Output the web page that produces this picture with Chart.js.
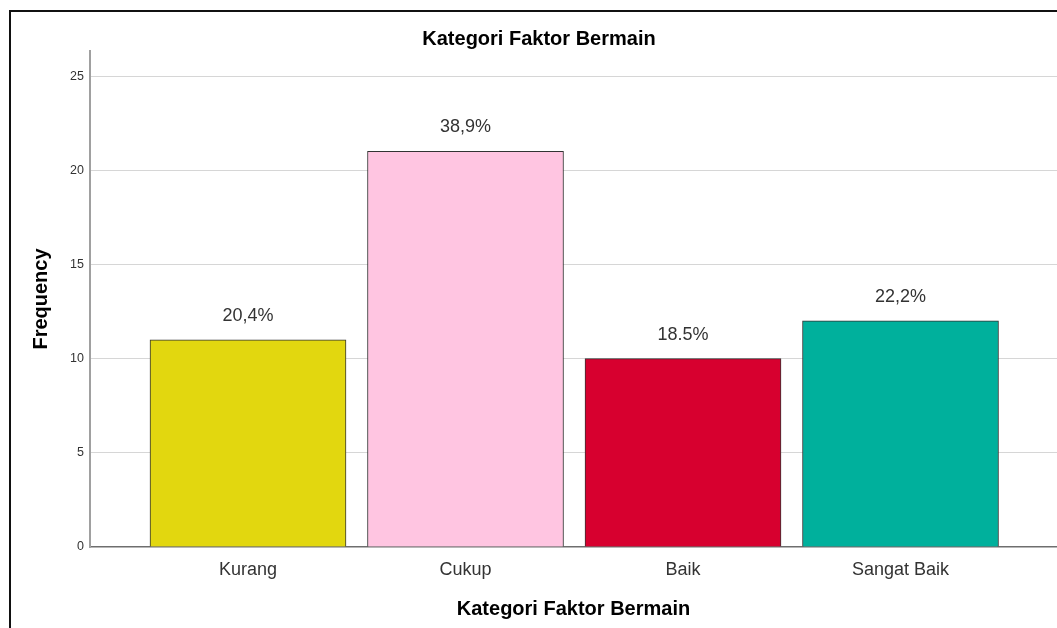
<!DOCTYPE html>
<html><head><meta charset="utf-8">
<script src="https://cdn.jsdelivr.net/npm/chart.js@4.4.1/dist/chart.umd.min.js"></script>
<style>
html,body{margin:0;padding:0;background:#fff;overflow:hidden;}
#wrap{position:relative;width:1057px;height:628px;}
#frame{position:absolute;left:9px;top:10px;width:1100px;height:700px;border-left:2px solid #111;border-top:2px solid #111;box-sizing:border-box;}
canvas{position:absolute;left:0;top:0;}
</style></head>
<body><div id="wrap"><div id="frame"></div><canvas id="c" width="1057" height="628"></canvas></div>
<script>
const chartTitle = "Kategori Faktor Bermain";
const xTitle = "Kategori Faktor Bermain";
const yTitle = "Frequency";
const categories = ["Kurang", "Cukup", "Baik", "Sangat Baik"];
const frequencies = [11, 21, 10, 12];
const percentLabels = ["20,4%", "38,9%", "18.5%", "22,2%"];
const barColors = ["#E2D70F", "#FFC5E1", "#D7002F", "#00B09C"];
const yTicks = [0, 5, 10, 15, 20, 25];

const FONT = "'Liberation Sans', Arial, sans-serif";

const extraText = {
  id: 'extraText',
  afterDatasetsDraw(chart) {
    const ctx = chart.ctx;
    ctx.save();
    ctx.font = "bold 20px " + FONT;
    ctx.fillStyle = "#000";
    ctx.textAlign = "center";
    ctx.textBaseline = "middle";
    ctx.fillText(chartTitle, 539, 39);
    const meta = chart.getDatasetMeta(0);
    ctx.font = "18px " + FONT;
    ctx.fillStyle = "#333";
    meta.data.forEach((bar, i) => {
      const p = bar.getProps(['x', 'y'], true);
      ctx.fillText(percentLabels[i], p.x, p.y - 24);
    });
    ctx.restore();
  }
};

new Chart(document.getElementById('c'), {
  type: 'bar',
  data: {
    datasets: [{
      data: categories.map((c, i) => ({x: i, y: frequencies[i]})),
      backgroundColor: barColors,
      borderColor: "#333",
      borderWidth: 1,
      barThickness: 196
    }]
  },
  options: {
    responsive: false,
    animation: false,
    devicePixelRatio: 1,
    layout: {padding: {top: 51, left: 0, right: 0, bottom: 0}},
    plugins: {legend: {display: false}, tooltip: {enabled: false}, title: {display: false}},
    scales: {
      x: {
        type: 'linear',
        offset: false,
        bounds: 'data',
        min: -0.7264,
        max: 3.7195,
        afterFit(s) { s.height = 81; },
        afterBuildTicks(s) { s.ticks = categories.map((c, i) => ({value: i})); },
        grid: {display: false, drawTicks: false, offset: false},
        border: {display: true, color: "#6e6e6e", width: 1.5},
        ticks: {
          autoSkip: false, maxRotation: 0, padding: 12,
          font: {family: FONT, size: 18}, color: "#333",
          callback: (v) => categories[v] ?? ''
        },
        title: {display: true, text: xTitle, font: {family: FONT, size: 20, weight: 'bold'}, color: "#000", padding: {top: 0, bottom: 7}}
      },
      y: {
        type: 'linear',
        min: 0,
        max: 26.33,
        afterFit(s) { s.width = 90; },
        afterBuildTicks(s) { s.ticks = yTicks.map(v => ({value: v})); },
        grid: {drawTicks: false, color: (c) => c.tick && c.tick.value === 0 ? 'rgba(0,0,0,0)' : '#d6d6d6', lineWidth: 1},
        border: {display: true, color: "#a0a0a0", width: 2},
        ticks: {padding: 6, font: {family: FONT, size: 12.5}, color: "#333"},
        title: {display: true, text: yTitle, font: {family: FONT, size: 20, weight: 'bold'}, color: "#000", padding: {top: 29, bottom: 0}}
      }
    }
  },
  plugins: [extraText]
});
</script></body></html>
